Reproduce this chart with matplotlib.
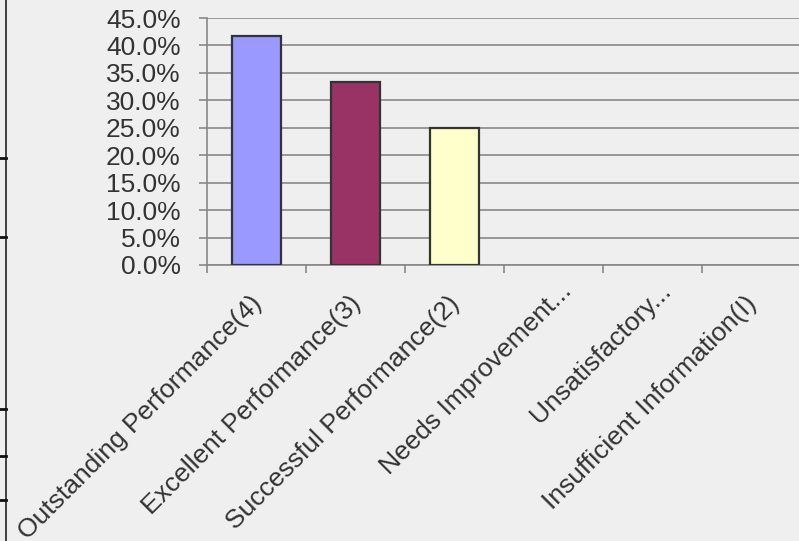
import matplotlib.pyplot as plt
import matplotlib.lines as mlines
import matplotlib.transforms as mtransforms
import numpy as np
from matplotlib.ticker import FuncFormatter, MultipleLocator

# Data
categories = ['Outstanding Performance(4)', 'Excellent Performance(3)',
              'Successful Performance(2)', 'Needs Improvement...',
              'Unsatisfactory...', 'Insufficient Information(I)']
shares = [41.67, 33.33, 25.0, 0.0, 0.0, 0.0]
bar_colors = ['#9999FF', '#993366', '#FFFFCC', '#9999FF', '#993366', '#FFFFCC']

plt.rcParams['font.family'] = ['Liberation Sans', 'DejaVu Sans']
text_color = '#333333'
grid_color = '#888888'

fig = plt.figure(figsize=(7.99, 5.41), dpi=100, facecolor='#EFEFEF')
ax = fig.add_axes([207 / 799, 1 - 265 / 541, 594 / 799, 247 / 541])
ax.set_facecolor('#EFEFEF')

x = np.arange(len(categories))
edge_widths = [1.6 if s > 0 else 0 for s in shares]
ax.bar(x, shares, width=0.5, color=bar_colors, edgecolor='#333333',
       linewidth=edge_widths, zorder=3)

ax.set_xlim(-0.5, len(categories) - 0.5)
ax.set_ylim(0, 45)
ax.yaxis.set_major_locator(MultipleLocator(5))
ax.yaxis.set_major_formatter(FuncFormatter(lambda v, p: f'{v:.1f}%'))
ax.grid(axis='y', color=grid_color, linewidth=1.2, zorder=0)
ax.set_axisbelow(True)

for side in ['top', 'right']:
    ax.spines[side].set_visible(False)
for side in ['left', 'bottom']:
    ax.spines[side].set_color(grid_color)
    ax.spines[side].set_linewidth(1.2)

ax.tick_params(axis='y', direction='out', length=6, width=1.2,
               color=grid_color, labelsize=19, labelcolor=text_color, pad=13)

# category boundaries carry the tick marks, centres carry the labels
ax.set_xticks(np.arange(-0.5, len(categories), 1.0), minor=True)
ax.set_xticks(x)
ax.set_xticklabels(categories, rotation=45, ha='right', va='top',
                   fontsize=19, color=text_color)
ax.tick_params(axis='x', which='major', length=0, pad=14)
ax.tick_params(axis='x', which='minor', direction='out', length=6,
               width=1.2, color=grid_color)

# nudge the rotated labels; truncated ones sit a little further out
for lbl in ax.get_xticklabels():
    dx, dy = (23, 6) if lbl.get_text().endswith('...') else (10, -7)
    shift = mtransforms.ScaledTranslation(dx / 100, dy / 100, fig.dpi_scale_trans)
    lbl.set_transform(lbl.get_transform() + shift)

# frame edge of the neighbouring chart on the left
fig.add_artist(mlines.Line2D([6 / 799, 6 / 799], [0, 1], color='#222222',
                             linewidth=1.2))
for yp in [158, 237, 409, 456, 500]:
    fig.add_artist(mlines.Line2D([0, 6 / 799], [1 - yp / 541, 1 - yp / 541],
                                 color='#111111', linewidth=2))

fig.savefig('out.png', dpi=100, facecolor=fig.get_facecolor())
plt.close(fig)
